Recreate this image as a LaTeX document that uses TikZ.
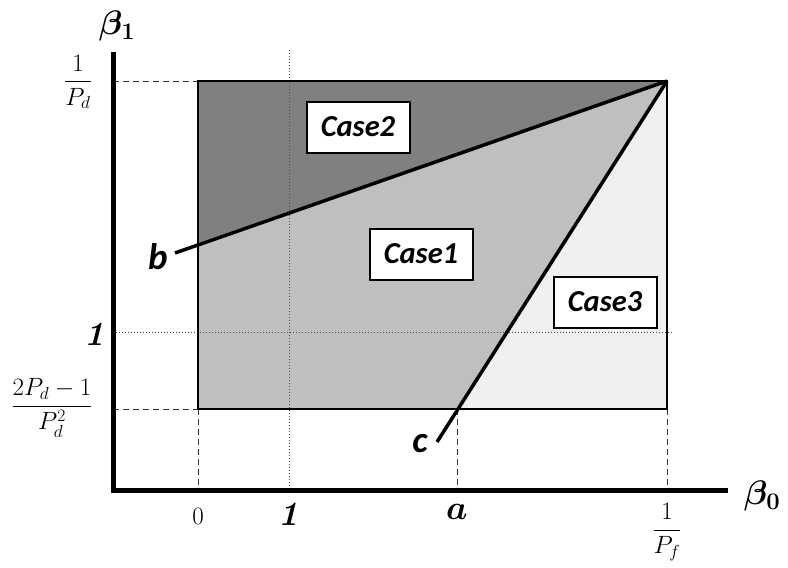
\RequirePackage{fix-cm}
\documentclass[tikz,border=0pt]{standalone}
\usepackage{amsmath}
\usepackage{bm}
\usepackage{fontspec}
\newfontfamily\casefont{Carlito}[BoldItalicFont={Carlito Bold Italic}]
\begin{document}
\begin{tikzpicture}[x=1pt,y=-1pt,
  axis/.style={line width=5pt},
  guide/.style={line width=1pt, dash pattern=on 6pt off 4pt, black!80},
  dotline/.style={line width=1pt, dotted, black!70},
  border/.style={line width=2pt},
  split/.style={line width=3.5pt},
  casebox/.style={draw, line width=2pt, fill=white, minimum width=103pt, minimum height=51pt, inner sep=0pt, font=\casefont\fontsize{30.5}{34}\selectfont\bfseries\itshape},
  lab/.style={inner sep=0pt, font=\fontsize{25}{29}\selectfont},
  biglab/.style={inner sep=0pt, font=\fontsize{34}{38}\selectfont},
  sanslab/.style={inner sep=0pt, font=\casefont\fontsize{37}{40}\selectfont\bfseries\itshape}]
\useasboundingbox (0,0) rectangle (788,568);
% key points
\coordinate (O) at (113,490);
\coordinate (Ytop) at (113,52);
\coordinate (Xend) at (728,490);
\coordinate (TL) at (198,81);
\coordinate (TR) at (667,81);
\coordinate (BL) at (198,409);
\coordinate (BR) at (667,409);
\coordinate (bL) at (198,243);
\coordinate (aP) at (457,409);
\coordinate (bEnd) at (175,253);
\coordinate (cEnd) at (437,442);
\coordinate (Y1P) at (113,81);
\coordinate (YlowP) at (113,409);
\coordinate (X0) at (198,490);
\coordinate (Xa) at (457,490);
\coordinate (Xf) at (667,490);
\coordinate (D1top) at (289,50);
\coordinate (D1bot) at (289,490);
\coordinate (H1l) at (113,332);
\coordinate (H1r) at (673,332);
% regions
\fill[black!50] (TL) -- (TR) -- (bL) -- cycle;
\fill[black!25] (bL) -- (TR) -- (aP) -- (BL) -- cycle;
\fill[black!6] (TR) -- (BR) -- (aP) -- cycle;
% dotted guides
\draw[dotline] (D1top) -- (D1bot);
\draw[dotline] (H1l) -- (H1r);
% dashed guides
\draw[guide] (Y1P) -- (TL);
\draw[guide] (YlowP) -- (BL);
\draw[guide] (BL) -- (X0);
\draw[guide] (aP) -- (Xa);
\draw[guide] (BR) -- (Xf);
% border
\draw[border] (TL) rectangle (BR);
% split lines
\draw[split] (bEnd) -- (TR);
\draw[split] (cEnd) -- (TR);
% axes
\draw[axis] (Ytop) -- (O |- 0,492.5);
\draw[axis] (110.5,490) -- (Xend);
% case boxes
\node[casebox] (case2) at (358,127) {Case2};
\node[casebox] (case1) at (421,254) {Case1};
\node[casebox] (case3) at (605,302) {Case3};
% axis labels
\node[biglab] (beta1) at (117,26) {$\bm{\beta_1}$};
\node[biglab] (beta0) at (762,496) {$\bm{\beta_0}$};
\node[lab] (ytick1) at (78,82) {$\dfrac{1}{P_d}$};
\node[lab] (ytick2) at (52,408) {$\dfrac{2P_d-1}{P_d^2}$};
\node[biglab] (yone) at (95,334) {\bfseries\itshape 1};
\node[lab] (xzero) at (198,516) {$0$};
\node[biglab] (xone) at (289,514) {\bfseries\itshape 1};
\node[biglab] (xa) at (457,512) {$\bm{a}$};
\node[lab] (xf) at (667,532) {$\dfrac{1}{P_f}$};
\node[sanslab] (blab) at (158,257) {b};
\node[sanslab] (clab) at (420,444) {c};
\end{tikzpicture}
\end{document}
